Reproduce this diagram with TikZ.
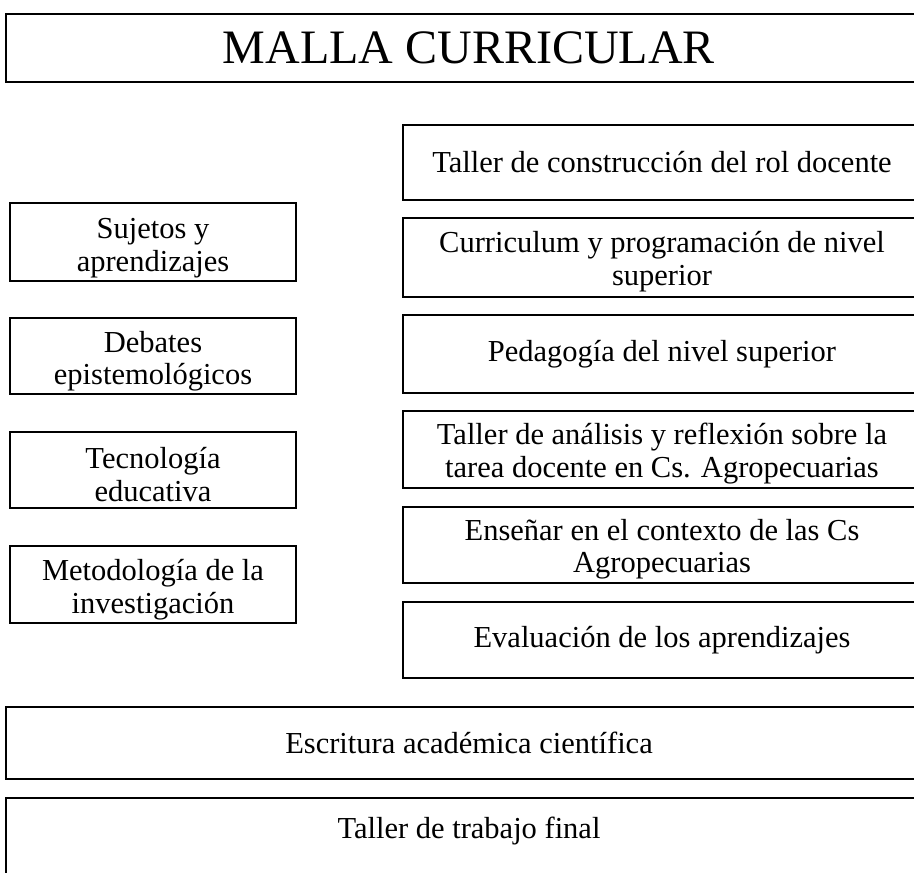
\documentclass[tikz,border=0pt]{standalone}
\usepackage{fontspec}
\setmainfont{Liberation Serif}
\begin{document}
\begin{tikzpicture}[x=1pt,y=-1pt,
  box/.style={draw=black, line width=1.8pt, inner sep=0pt, align=center,
    font=\fontsize{30.5}{32.5}\selectfont},
  rbox/.style={box, minimum width=518pt},
  lbox/.style={box, minimum width=286pt},
  wbox/.style={box, minimum width=926pt},
  plain/.style={inner sep=0pt, align=center, font=\fontsize{30.5}{32.5}\selectfont}]
\clip (0,0) rectangle (914,873);
\fill[white] (0,0) rectangle (914,873);
% title
\node (title) [wbox, minimum height=68pt, font=\fontsize{48}{52}\selectfont] at (469,48) {MALLA CURRICULAR};
% right column
\node (r1) [rbox, minimum height=75pt] at (662,162.5) {Taller de construcción del rol docente};
\node (r2) [rbox, minimum height=79pt] at (662,257.5) {};
\node (r2t) [plain] at (662,261.5) {Curriculum y programación de nivel\\superior};
\node (r3) [rbox, minimum height=78pt] at (662,354) {Pedagogía del nivel superior};
\node (r4) [rbox, minimum height=77pt] at (662,449.5) {};
\node (r4t) [plain] at (662,453.5) {Taller de análisis y reflexión sobre la\\tarea docente en Cs. Agropecuarias};
\node (r5) [rbox, minimum height=76pt] at (662,545) {};
\node (r5t) [plain] at (662,549) {Enseñar en el contexto de las Cs\\Agropecuarias};
\node (r6) [rbox, minimum height=76pt] at (662,640) {Evaluación de los aprendizajes};
% left column
\node (l1) [lbox, minimum height=78pt] at (153,242) {};
\node (l1t) [plain] at (153,248) {Sujetos y\\aprendizajes};
\node (l2) [lbox, minimum height=76pt] at (153,356) {};
\node (l2t) [plain] at (153,361) {Debates\\epistemológicos};
\node (l3) [lbox, minimum height=76pt] at (153,470) {};
\node (l3t) [plain] at (153,474.5) {Tecnología\\educativa};
\node (l4) [lbox, minimum height=77pt] at (153,584.5) {};
\node (l4t) [plain] at (153,589.5) {Metodología de la\\investigación};
% bottom
\node (b1) [wbox, minimum height=72pt] at (469,743) {Escritura académica científica};
\node (b2box) [wbox, minimum height=100pt, anchor=north] at (469,797) {};
\node (b2) [plain] at (469,831) {Taller de trabajo final};
\end{tikzpicture}
\end{document}
